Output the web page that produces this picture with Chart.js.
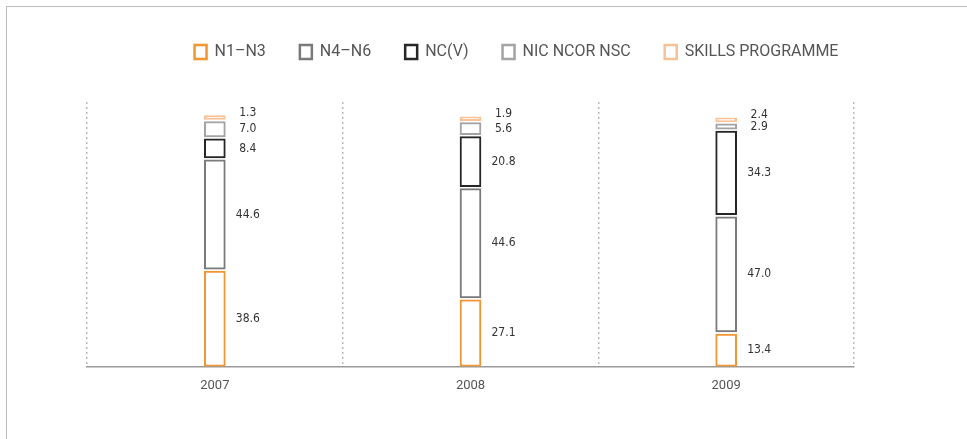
<!DOCTYPE html>
<html>
<head>
<meta charset="utf-8">
<script src="https://cdn.jsdelivr.net/npm/chart.js@4.4.1/dist/chart.umd.min.js"></script>
<style>
  html, body { margin: 0; padding: 0; background: #fff; }
  body { width: 967px; height: 439px; position: relative; overflow: hidden; }
  #frame { position: absolute; left: 6px; top: 6px; right: 0; bottom: 0;
           border-left: 1.5px solid #bdbdbd; border-top: 1.5px solid #bdbdbd; }
  #chart { position: absolute; left: 80px; top: 0; }
</style>
</head>
<body>
<div id="frame"></div>
<canvas id="chart" width="887" height="439"></canvas>
<script>
var years = ['2007', '2008', '2009'];
var n1n3 = [38.6, 27.1, 13.4];
var n4n6 = [44.6, 44.6, 47.0];
var ncv = [8.4, 20.8, 34.3];
var nicNcorNsc = [7.0, 5.6, 2.9];
var skills = [1.3, 1.9, 2.4];

var seriesNames = ['N1–N3', 'N4–N6', 'NC(V)', 'NIC NCOR NSC', 'SKILLS PROGRAMME'];
var seriesValues = [n1n3, n4n6, ncv, nicNcorNsc, skills];
var seriesColors = ['#f39530', '#7a7a7c', '#262626', '#a3a3a5', '#f8c196'];

var GAP = 0.8; // white gap between the stacked boxes, in axis units

// floating bars stacked bottom to top, so each box can keep a gap to the next
var sums = years.map(function () { return 0; });
var datasets = seriesValues.map(function (values, s) {
  var ranges = values.map(function (v, i) {
    var lo = sums[i] + (s === 0 ? 0 : GAP / 2);
    var hi = sums[i] + v - GAP / 2;
    sums[i] += v;
    return [lo, hi];
  });
  return {
    label: seriesNames[s],
    data: ranges,
    borderColor: seriesColors[s],
    backgroundColor: '#fff',
    borderWidth: 2,
    borderSkipped: false,
    grouped: false,
    barThickness: 21,
    minBarLength: 4
  };
});

// numbers to the right of each box
var valueLabels = {
  id: 'valueLabels',
  afterDatasetsDraw: function (chart) {
    var ctx = chart.ctx;
    ctx.save();
    ctx.font = "12px 'Liberation Sans Narrow', 'DejaVu Sans Condensed', sans-serif";
    ctx.fillStyle = '#333';
    ctx.textAlign = 'center';
    ctx.textBaseline = 'middle';
    chart.data.datasets.forEach(function (ds, s) {
      chart.getDatasetMeta(s).data.forEach(function (bar, i) {
        var y = (bar.y + bar.base) / 2;
        if (s === seriesValues.length - 1) y -= 5;
        ctx.fillText(seriesValues[s][i].toFixed(1), bar.x + 33, y);
      });
    });
    ctx.restore();
  }
};

// extra room under the legend
var legendGap = {
  id: 'legendGap',
  beforeInit: function (chart) {
    var fit = chart.legend.fit;
    chart.legend.fit = function () {
      fit.call(this);
      this.height += 32;
    };
  }
};

var ctx = document.getElementById('chart').getContext('2d');
var chart = new Chart(ctx, {
  type: 'bar',
  data: {
    labels: years,
    datasets: datasets
  },
  options: {
    responsive: false,
    animation: false,
    layout: { padding: { left: 7, right: 21, top: 10, bottom: 33 } },
    plugins: {
      legend: {
        labels: {
          boxWidth: 12,
          boxHeight: 14,
          padding: 34,
          color: '#555',
          font: { family: 'Roboto', size: 16 },
          generateLabels: function (chart) {
            return chart.data.datasets.map(function (ds, i) {
              return {
                text: ds.label,
                fillStyle: '#fff',
                strokeStyle: ds.borderColor,
                lineWidth: 2.5,
                fontColor: '#555',
                hidden: false,
                datasetIndex: i
              };
            });
          }
        }
      },
      tooltip: { enabled: false }
    },
    scales: {
      x: {
        offset: true,
        grid: { color: '#bbb', lineWidth: 1.5, drawTicks: false, offset: true },
        border: { display: true, color: '#9a9a9a', width: 1.5, dash: [2, 3] },
        ticks: { color: '#555', font: { family: 'Roboto', size: 13 }, padding: 12 }
      },
      y: {
        position: 'right',
        min: 0,
        max: 106,
        ticks: { display: false },
        grid: { display: false },
        border: { display: false },
        afterFit: function (scale) { scale.width = 92; }
      }
    }
  },
  plugins: [valueLabels, legendGap]
});
</script>
</body>
</html>
